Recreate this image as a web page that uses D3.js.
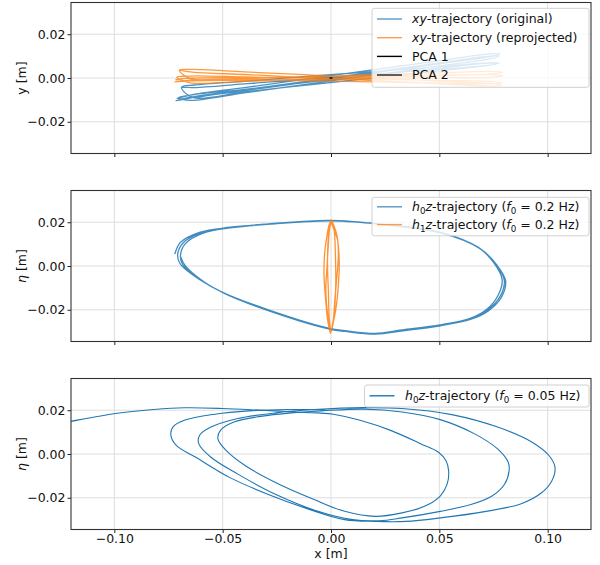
<!DOCTYPE html>
<html><head><meta charset="utf-8">
<script src="https://cdn.jsdelivr.net/npm/d3@7"></script>
<style>body{margin:0;background:#fff} text{font-family:"DejaVu Sans",sans-serif}</style>
</head><body><svg id="c" width="600" height="565"></svg>
<script>
// ---------- data ----------
const xTicks = [-0.1, -0.05, 0, 0.05, 0.1];
const yTicks = [-0.02, 0, 0.02];

// panel 1: xy-trajectory (original)
const xyOriginal = [
 [-0.0712,-0.0094],[-0.065,-0.0078],[-0.04,-0.0044],[-0.01,-0.0003],[0.02,0.0038],[0.05,0.0079],[0.072,0.0109],[0.0780,0.0110],
 [0.072,0.0095],[0.05,0.0065],[0.02,0.0024],[-0.01,-0.0017],[-0.04,-0.0058],[-0.065,-0.0092],
 [-0.0716,-0.0104],[-0.065,-0.0088],[-0.04,-0.0054],[-0.01,-0.0013],[0.02,0.0028],[0.05,0.0069],[0.072,0.0099],[0.0776,0.0100],
 [0.072,0.0085],[0.05,0.0055],[0.02,0.0014],[-0.01,-0.0027],[-0.04,-0.0068],[-0.065,-0.0102],
 [-0.0705,-0.0090],[-0.064,-0.0077],[-0.04,-0.0052],[-0.01,-0.0019],[0.02,0.0013],[0.05,0.0045],[0.071,0.0067],[0.0776,0.0068],
 [0.071,0.0055],[0.05,0.0033],[0.02,0.0001],[-0.01,-0.0031],[-0.04,-0.0064],[-0.064,-0.0089],
 [-0.0690,-0.0042],[-0.063,-0.0032],[-0.04,-0.0015],[-0.01,0.0008],[0.02,0.0030],[0.05,0.0052],[0.071,0.0068],[0.0772,0.0066],
 [0.071,0.0056],[0.05,0.0040],[0.02,0.0018],[-0.01,-0.0004],[-0.04,-0.0027],[-0.063,-0.0044],[-0.0690,-0.0042]
];
// panel 1: xy-trajectory (reprojected)
const xyReprojected = [
 [-0.0718,-0.0008],[-0.065,-0.0001],[-0.04,0.0002],[-0.01,0.0005],[0.02,0.0009],[0.05,0.0013],[0.073,0.0015],[0.0795,0.0010],
 [0.073,0.0003],[0.05,0.0001],[0.02,-0.0003],[-0.01,-0.0007],[-0.04,-0.0010],[-0.065,-0.0013],
 [-0.0722,-0.0018],[-0.065,-0.0010],[-0.04,-0.0003],[-0.01,0.0006],[0.02,0.0015],[0.05,0.0023],[0.073,0.0030],[0.0793,0.0026],
 [0.073,0.0018],[0.05,0.0011],[0.02,0.0003],[-0.01,-0.0006],[-0.04,-0.0015],[-0.065,-0.0022],
 [-0.0712,0.0004],[-0.065,0.0009],[-0.04,0.0005],[-0.01,-0.0001],[0.02,-0.0006],[0.05,-0.0011],[0.073,-0.0015],[0.0792,-0.0022],
 [0.073,-0.0027],[0.05,-0.0023],[0.02,-0.0018],[-0.01,-0.0013],[-0.04,-0.0007],[-0.065,-0.0003],
 [-0.0700,0.0036],[-0.064,0.0039],[-0.04,0.0028],[-0.01,0.0014],[0.02,0.0000],[0.05,-0.0014],[0.073,-0.0025],[0.0790,-0.0034],
 [0.073,-0.0037],[0.05,-0.0026],[0.02,-0.0012],[-0.01,0.0002],[-0.04,0.0016],[-0.064,0.0027],[-0.0700,0.0036]
];
const pca1 = [[-0.0007,-0.0001],[0.0007,0.0001]];
const pca2 = [[0.0000,0.0000],[0.0000,0.0002]];

// panel 2: h0z-trajectory (f0 = 0.2 Hz)
const h0zFast = [
 [-0.0721,0.0054],[-0.0695,0.0108],[-0.0607,0.0154],[-0.0466,0.0177],[-0.0289,0.0192],[-0.0007,0.0208],[0.0240,0.0190],[0.0504,0.0154],[0.0680,0.0085],[0.0751,0.0015],[0.0790,-0.0062],[0.0769,-0.0138],[0.0716,-0.0200],[0.0645,-0.0238],[0.0504,-0.0269],[0.0328,-0.0292],[0.0205,-0.0308],[0.0063,-0.0295],[-0.0007,-0.0285],[-0.0289,-0.0200],[-0.0501,-0.0120],[-0.0607,-0.0062],[-0.0695,0.0008],
 [-0.0708,0.0050],[-0.0683,0.0105],[-0.0598,0.0152],[-0.0460,0.0176],[-0.0285,0.0192],[-0.0005,0.0207],[0.0245,0.0189],[0.0510,0.0152],[0.0688,0.0080],[0.0760,0.0010],[0.0800,-0.0065],[0.0780,-0.0140],[0.0722,-0.0202],[0.0648,-0.0240],[0.0505,-0.0271],[0.0330,-0.0294],[0.0205,-0.0310],[0.0065,-0.0297],[-0.0005,-0.0287],[-0.0285,-0.0203],[-0.0495,-0.0123],[-0.0598,-0.0066],[-0.0683,0.0004],
 [-0.0695,0.0047],[-0.0672,0.0102],[-0.0590,0.0150],[-0.0455,0.0175],[-0.0280,0.0191],[-0.0003,0.0206],[0.0250,0.0188],[0.0512,0.0150],[0.0690,0.0078],[0.0765,0.0005],[0.0806,-0.0068],[0.0786,-0.0144],[0.0726,-0.0205],[0.0650,-0.0242],[0.0506,-0.0273],[0.0332,-0.0296],[0.0206,-0.0311],[0.0066,-0.0299],[-0.0004,-0.0289],[-0.0283,-0.0206],[-0.0490,-0.0126],[-0.0590,-0.0070],[-0.0672,0.0000],[-0.0695,0.0045]
];
// panel 2: h1z-trajectory (f0 = 0.2 Hz)
const h1zFast = [
 [0.0005,0.0205],[0.0025,0.0150],[0.0035,0.0080],[0.0038,0.0000],[0.0033,-0.0100],[0.0022,-0.0200],[0.0008,-0.0270],[-0.0002,-0.0305],
 [-0.0015,-0.0250],[-0.0025,-0.0150],[-0.0032,-0.0050],[-0.0030,0.0050],[-0.0020,0.0130],[-0.0008,0.0190],
 [0.0003,0.0210],[0.0015,0.0160],[0.0020,0.0060],[0.0022,-0.0080],[0.0018,-0.0180],[0.0010,-0.0260],[0.0001,-0.0300],
 [-0.0008,-0.0240],[-0.0012,-0.0120],[-0.0016,0.0000],[-0.0015,0.0080],[-0.0010,0.0160],[-0.0002,0.0205],
 [0.0012,0.0170],[0.0030,0.0120],[0.0034,0.0050],[0.0028,-0.0040],[0.0018,-0.0150],[0.0010,-0.0250],[-0.0003,-0.0308],
 [-0.0010,-0.0260],[-0.0020,-0.0180],[-0.0024,-0.0100],[-0.0018,0.0000],[-0.0012,0.0100],[-0.0005,0.0180],[0.0004,0.0206]
];
// panel 3: h0z-trajectory (f0 = 0.05 Hz)
const h0zSlow = [
 [-0.1259,0.0138],[-0.1201,0.0149],[-0.0995,0.0185],[-0.0818,0.0203],[-0.0677,0.0211],[-0.0501,0.0208],[-0.0325,0.0200],[-0.0148,0.0191],[0.0011,0.0182],
 [0.0134,0.0154],[0.0275,0.0108],[0.0416,0.0046],[0.0496,0.0008],[0.0531,-0.0031],[0.0543,-0.0077],[0.0536,-0.0138],[0.0504,-0.0192],[0.0434,-0.0238],[0.0328,-0.0269],[0.0205,-0.0285],
 [0.0063,-0.0262],[-0.0078,-0.0208],[-0.0254,-0.0131],[-0.0395,-0.0054],[-0.0483,0.0015],[-0.0522,0.0069],[-0.0510,0.0108],[-0.0448,0.0146],[-0.0325,0.0172],[-0.0183,0.0188],[-0.0042,0.0197],
 [0.0152,0.0205],[0.0328,0.0192],[0.0504,0.0157],[0.0663,0.0092],[0.0769,0.0023],[0.0818,-0.0038],[0.0822,-0.0077],[0.0801,-0.0138],[0.0743,-0.0192],[0.0646,-0.0231],[0.0504,-0.0262],[0.0328,-0.0292],[0.0222,-0.0305],[0.0099,-0.0300],
 [-0.0060,-0.0262],[-0.0254,-0.0185],[-0.0430,-0.0092],[-0.0554,-0.0015],[-0.0610,0.0046],[-0.0607,0.0085],[-0.0554,0.0123],[-0.0430,0.0162],[-0.0254,0.0188],[-0.0078,0.0203],
 [0.0152,0.0212],[0.0328,0.0208],[0.0557,0.0180],[0.0769,0.0123],[0.0928,0.0054],[0.1007,-0.0008],[0.1034,-0.0062],[0.1019,-0.0123],[0.0972,-0.0177],[0.0875,-0.0228],[0.0716,-0.0262],[0.0504,-0.0292],[0.0346,-0.0308],[0.0205,-0.0308],[0.0063,-0.0300],
 [-0.0113,-0.0249],[-0.0289,-0.0185],[-0.0466,-0.0108],[-0.0624,-0.0015],[-0.0713,0.0038],[-0.0739,0.0085],[-0.0730,0.0123],[-0.0677,0.0154],[-0.0536,0.0182],[-0.0377,0.0197],[-0.0201,0.0203],[-0.0025,0.0203]
];

// ---------- layout ----------
const svg = d3.select("#c");
const L = 71, R = 591, H = 151;
const tops = [2.5, 190.5, 378.5];
const BLUE = "#1f77b4", ORANGE = "#ff7f0e";
const x = d3.scaleLinear().domain([-0.12, 0.12]).range([L, R]);
const fmt = d3.format(".2f");
const line = d3.line().curve(d3.curveCatmullRom.alpha(0.5));

const panels = [
  {ylabel: [{t:"y [m]"}], series: [
     {data: xyOriginal, color: BLUE, op: 0.8, w: 1.3},
     {data: xyReprojected, color: ORANGE, op: 0.8, w: 1.3},
     {data: pca1, color: "#000", op: 1, w: 1.3, straight: true},
     {data: pca2, color: "#222", op: 1, w: 1.3, straight: true}],
   legend: {x: 372, y: 8.3, w: 217, h: 79, rows: [19, 37.7, 56.4, 75], textX: 412, lineX: [377, 402],
     items: [
       {color: BLUE, op: 0.75, label: [{t:"xy", i:1},{t:"-trajectory (original)"}]},
       {color: ORANGE, op: 0.75, label: [{t:"xy", i:1},{t:"-trajectory (reprojected)"}]},
       {color: "#000", op: 1, label: [{t:"PCA 1"}]},
       {color: "#222", op: 1, label: [{t:"PCA 2"}]}]}},
  {ylabel: [{t:"η", i:1},{t:" [m]"}], series: [
     {data: h0zFast, color: BLUE, op: 0.85, w: 1.3},
     {data: h1zFast, color: ORANGE, op: 0.85, w: 1.3}],
   legend: {x: 372, y: 197.3, w: 217, h: 38.5, rows: [206.8, 224.6], textX: 412, lineX: [377, 402],
     items: [
       {color: BLUE, op: 0.75, label: [{t:"h",i:1},{t:"0",s:1},{t:"z",i:1},{t:"-trajectory ("},{t:"f",i:1},{t:"0",s:1},{t:" = 0.2 Hz)"}]},
       {color: ORANGE, op: 0.75, label: [{t:"h",i:1},{t:"1",s:1},{t:"z",i:1},{t:"-trajectory ("},{t:"f",i:1},{t:"0",s:1},{t:" = 0.2 Hz)"}]}]}},
  {ylabel: [{t:"η", i:1},{t:" [m]"}], series: [
     {data: h0zSlow, color: BLUE, op: 1, w: 1.1}],
   legend: {x: 364.5, y: 385, w: 224.5, h: 22, rows: [395.8], textX: 405, lineX: [369.5, 394.5],
     items: [
       {color: BLUE, op: 1, label: [{t:"h",i:1},{t:"0",s:1},{t:"z",i:1},{t:"-trajectory ("},{t:"f",i:1},{t:"0",s:1},{t:" = 0.05 Hz)"}]}]}}
];

// rich text: italics and subscripts; subscript shift is undone on the following tspan
function richText(sel, parts, fs) {
  let pending = 0;
  parts.forEach(p => {
    const ts = sel.append("tspan").text(p.t);
    let dy = pending;
    pending = 0;
    if (p.s) {
      dy += fs * 0.2;
      pending = -fs * 0.2;
      ts.attr("font-size", fs * 0.7);
    }
    if (dy) ts.attr("dy", dy);
    if (p.i) ts.attr("font-style", "italic");
  });
}

const FS = 12.5;
const defs = svg.append("defs");

panels.forEach((p, k) => {
  const top = tops[k];
  const y = d3.scaleLinear().domain([-0.0345, 0.0345]).range([top + H, top]);
  const g = svg.append("g");
  defs.append("clipPath").attr("id", "clip" + k).append("rect")
    .attr("x", L).attr("y", top).attr("width", R - L).attr("height", H);

  // grid
  g.selectAll(".gx").data(xTicks).join("line")
    .attr("x1", d => x(d)).attr("x2", d => x(d)).attr("y1", top).attr("y2", top + H)
    .attr("stroke", "#dedede").attr("stroke-width", 1);
  g.selectAll(".gy").data(yTicks).join("line")
    .attr("x1", L).attr("x2", R).attr("y1", d => y(d)).attr("y2", d => y(d))
    .attr("stroke", "#dedede").attr("stroke-width", 1);

  // series
  const sg = g.append("g").attr("clip-path", `url(#clip${k})`);
  p.series.forEach(s => {
    const ln = s.straight ? d3.line() : line;
    sg.append("path").datum(s.data)
      .attr("d", ln.x(d => x(d[0])).y(d => y(d[1])))
      .attr("fill", "none").attr("stroke", s.color).attr("stroke-opacity", s.op)
      .attr("stroke-width", s.w).attr("stroke-linejoin", "round");
  });

  // axes
  const ax = g.append("g").attr("transform", `translate(0,${top + H})`)
    .call(d3.axisBottom(x).tickValues(xTicks).tickSize(3.5).tickPadding(1)
      .tickFormat(k === 2 ? fmt : () => ""));
  const ay = g.append("g").attr("transform", `translate(${L},0)`)
    .call(d3.axisLeft(y).tickValues(yTicks).tickSize(3.5).tickPadding(2).tickFormat(fmt));
  [ax, ay].forEach(a => {
    a.select(".domain").remove();
    a.selectAll("line").attr("stroke", "#222").attr("stroke-width", 1);
    a.selectAll("text").attr("font-size", FS).attr("fill", "#111").attr("font-family", "DejaVu Sans");
  });

  // frame
  g.append("rect").attr("x", L).attr("y", top).attr("width", R - L).attr("height", H)
    .attr("fill", "none").attr("stroke", "#333").attr("stroke-width", 1.1);

  // y label
  const yl = g.append("text").attr("transform", `translate(25.5,${top + H / 2}) rotate(-90)`)
    .attr("text-anchor", "middle").attr("font-size", FS).attr("fill", "#111");
  richText(yl, p.ylabel, FS);

  // legend
  const lg = p.legend;
  g.append("rect").attr("x", lg.x).attr("y", lg.y).attr("width", lg.w).attr("height", lg.h)
    .attr("rx", 2.5).attr("fill", "#fff").attr("fill-opacity", 0.8)
    .attr("stroke", "#d0d0d0").attr("stroke-width", 1);
  lg.items.forEach((it, j) => {
    const cy = lg.rows[j];
    g.append("line").attr("x1", lg.lineX[0]).attr("x2", lg.lineX[1]).attr("y1", cy).attr("y2", cy)
      .attr("stroke", it.color).attr("stroke-opacity", it.op).attr("stroke-width", 1.4);
    const t = g.append("text").attr("x", lg.textX).attr("y", cy + 4.4)
      .attr("font-size", FS).attr("fill", "#111");
    richText(t, it.label, FS);
  });
});

svg.append("text").attr("x", x(0)).attr("y", 558).attr("text-anchor", "middle")
  .attr("font-size", FS).attr("fill", "#111").text("x [m]");
</script>
</body></html>
